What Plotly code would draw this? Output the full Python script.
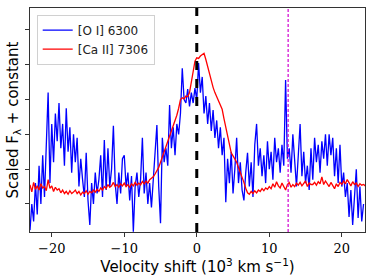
import numpy as np
import plotly.graph_objects as go

# velocity grid (10^3 km/s)
velocity = np.round(np.arange(-23.0, 23.26, 0.25), 2)

oi_6300 = [
    0.25, 1.0, 0.5, 1.6, 0.7, 2.1, 1.0, 2.4, 1.2, 2.6, 4.2, 1.6,
    3.3, 2.2, 3.6, 2.8, 3.9, 2.6, 3.3, 2.1, 3.75, 2.5, 3.2, 1.9,
    3.0, 2.2, 2.9, 1.5, 2.3, 1.7, 1.2, 2.47, 1.1, 0.4, 1.6, 1.0,
    1.9, 1.3, 1.7, 2.4, 1.2, 2.84, 1.4, 2.6, 1.5, 2.0, 3.25, 1.6,
    1.0, 1.9, 1.3, 2.3, 2.4, 1.5, 1.9, 1.1, 1.8, 0.2, 1.5, 1.9,
    1.2, 1.7, 2.9, 1.3, 1.9, 1.0, 1.6, 0.9, 1.8, 2.6, 3.27, 1.5,
    0.45, 2.9, 2.2, 2.6, 2.1, 3.84, 2.6, 3.2, 2.4, 3.3, 3.0, 3.6,
    4.9, 4.0, 3.9, 4.3, 3.8, 4.2, 3.9, 4.33, 4.0, 5.05, 4.2, 4.65,
    3.6, 4.1, 3.3, 3.9, 3.1, 3.7, 2.9, 3.4, 2.6, 3.2, 2.4, 2.9,
    1.05, 2.3, 1.6, 2.5, 1.3, 2.0, 2.9, 1.6, 2.2, 1.4, 1.1, 1.9,
    2.47, 1.5, 2.2, 1.2, 2.7, 3.3, 2.1, 2.6, 1.8, 2.4, 1.6, 2.8,
    2.0, 2.5, 1.7, 2.9, 2.2, 2.6, 1.9, 2.7, 2.1, 4.56, 2.3, 2.6,
    1.9, 3.0, 2.2, 1.5, 2.4, 3.3, 1.8, 2.5, 1.6, 2.1, 1.4, 2.6,
    1.7, 2.9, 2.2, 2.7, 1.9, 2.8, 2.3, 3.0, 2.1, 3.0, 2.4, 2.9,
    1.8, 2.6, 1.6, 2.7, 1.5, 1.9, 1.2, 1.6, 0.63, 1.4, 0.4, 1.3,
    2.0, 0.6, 1.5, 0.5, 1.0,
]

caii_7306 = [
    1.55, 1.35, 1.62, 1.42, 1.52, 1.40, 1.58, 1.46, 1.50, 1.38, 1.70, 1.45,
    1.52, 1.36, 1.48, 1.40, 1.44, 1.32, 1.40, 1.30, 1.36, 1.28, 1.38, 1.30,
    1.34, 1.40, 1.30, 1.36, 1.26, 1.34, 1.30, 1.38, 1.28, 1.36, 1.32, 1.40,
    1.34, 1.42, 1.36, 1.46, 1.40, 1.50, 1.44, 1.56, 1.48, 1.52, 1.62, 1.50,
    1.56, 1.48, 1.58, 1.52, 1.60, 1.50, 1.56, 1.48, 1.58, 1.52, 1.62, 1.54,
    1.60, 1.55, 1.65, 1.58, 1.66, 1.60, 1.70, 1.74, 1.78, 1.86, 1.95, 2.05,
    2.20, 2.35, 2.45, 2.60, 2.75, 2.90, 3.05, 3.20, 3.40, 3.55, 3.75, 4.00,
    4.05, 4.02, 4.10, 4.08, 4.20, 4.50, 4.80, 5.10, 5.20, 5.18, 5.25, 5.30,
    5.33, 5.15, 4.94, 4.75, 4.55, 4.35, 4.20, 4.07, 3.95, 3.85, 3.72, 3.45,
    3.20, 2.93, 2.70, 2.47, 2.38, 2.28, 2.20, 2.05, 1.92, 1.78, 1.62, 1.45,
    1.32, 1.28, 1.36, 1.30, 1.38, 1.32, 1.40, 1.36, 1.44, 1.38, 1.46, 1.42,
    1.50, 1.44, 1.58, 1.48, 1.64, 1.52, 1.46, 1.60, 1.50, 1.40, 1.56, 1.62,
    1.48, 1.56, 1.50, 1.60, 1.54, 1.62, 1.52, 1.58, 1.66, 1.50, 1.60, 1.56,
    1.56, 1.62, 1.54, 1.64, 1.58, 1.78, 1.56, 1.66, 1.58, 1.50, 1.62, 1.54,
    1.44, 1.58, 1.50, 1.62, 1.56, 1.66, 1.58, 1.70, 1.62, 1.52, 1.64, 1.56,
    1.60, 1.50, 1.58, 1.54, 1.56, 1.52,
]

series_names = ["[O I] 6300", "[Ca II] 7306"]
zero_velocity = 0.0
marker_velocity = 12.6
y_ticks = [1, 2, 3, 4, 5, 6]

fig = go.Figure()
fig.add_trace(go.Scatter(x=velocity, y=oi_6300, mode="lines", name=series_names[0],
                         line=dict(color="#0000ff", width=1.3)))
fig.add_trace(go.Scatter(x=velocity, y=caii_7306, mode="lines", name=series_names[1],
                         line=dict(color="#ff0000", width=1.3)))

fig.add_vline(x=zero_velocity, line=dict(color="black", width=3, dash="dash"), layer="above")
fig.add_vline(x=marker_velocity, line=dict(color="#d000d0", width=1.2, dash="3px,2px"), layer="above")

fig.update_layout(
    width=374, height=280,
    margin=dict(l=30, r=9, t=8, b=48, pad=0),
    plot_bgcolor="white", paper_bgcolor="white",
    showlegend=True,
    legend=dict(x=0.02, y=0.97, xanchor="left", yanchor="top",
                bgcolor="rgba(255,255,255,0.85)", bordercolor="#d0d0d0", borderwidth=1,
                font=dict(family="DejaVu Sans", size=12, color="#222"),
                itemwidth=30, tracegroupgap=2),
    font=dict(family="DejaVu Sans", color="black"),
)
fig.update_xaxes(range=[-23.0, 23.2], tickvals=[-20, -10, 0, 10, 20],
                 ticktext=["\u221220", "\u221210", "0", "10", "20"],
                 tickfont=dict(family="DejaVu Serif", size=13),
                 ticks="outside", ticklen=4, tickcolor="#333",
                 showline=True, linecolor="#333", linewidth=1, mirror=True,
                 showgrid=False, zeroline=False, automargin=False,
                 title=dict(text="Velocity shift (10<sup>3</sup> km s<sup>\u22121</sup>)",
                            font=dict(size=15), standoff=2))
fig.update_yaxes(range=[0.195, 6.63], tickvals=y_ticks, showticklabels=False,
                 ticks="outside", ticklen=4, tickcolor="#333",
                 showline=True, linecolor="#333", linewidth=1, mirror=True,
                 showgrid=False, zeroline=False, automargin=False,
                 title=dict(text="Scaled F<sub>\u03bb</sub> + constant",
                            font=dict(size=15), standoff=2))

fig.write_html("out.html", config={"displayModeBar": False},
               post_script="document.body.style.margin='0px';")
